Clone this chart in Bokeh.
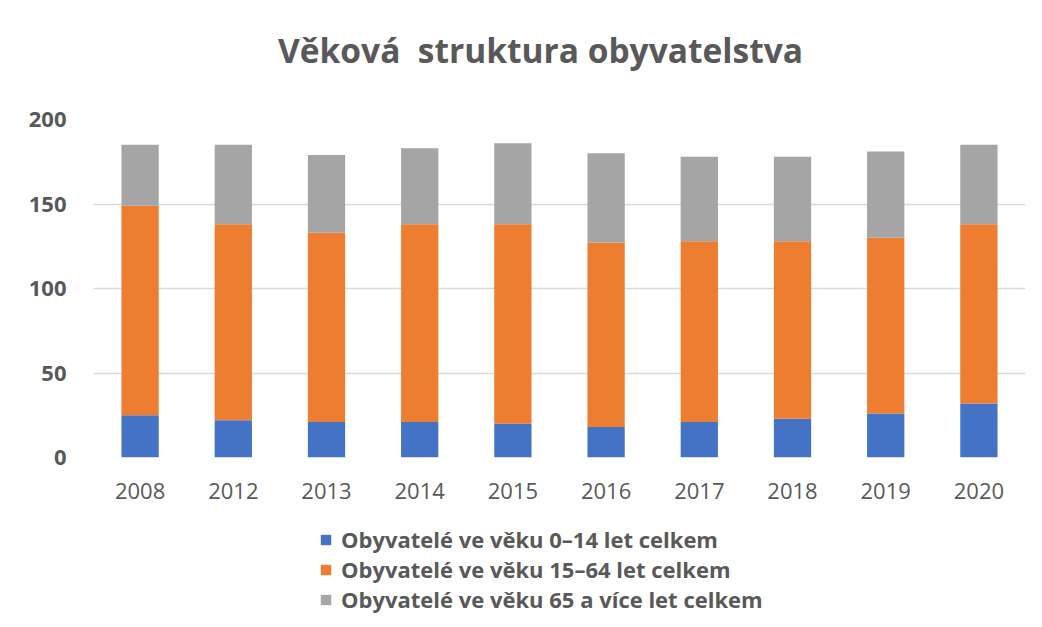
from bokeh.plotting import figure
from bokeh.models import ColumnDataSource, Legend, LegendItem, Range1d, FactorRange, Label
from bokeh.layouts import column
from bokeh.embed import file_html
from bokeh.resources import INLINE

years = ["2008", "2012", "2013", "2014", "2015", "2016", "2017", "2018", "2019", "2020"]
age_0_14 = [25, 22, 21, 21, 20, 18, 21, 23, 26, 32]
age_15_64 = [124, 116, 112, 117, 118, 109, 107, 105, 104, 106]
age_65_plus = [36, 47, 46, 45, 48, 53, 50, 50, 51, 47]
series_names = [
    "Obyvatelé ve věku 0–14 let celkem",
    "Obyvatelé ve věku 15–64 let celkem",
    "Obyvatelé ve věku 65 a více let celkem",
]
title_text = "Věková\u00a0 struktura obyvatelstva"
colors = ["#4472C4", "#ED7D31", "#A5A5A5"]
keys = ["a", "b", "c"]

src = ColumnDataSource(dict(years=years, a=age_0_14, b=age_15_64, c=age_65_plus))

TXT = "#595959"
W = 1042
ML, MR = 93, 17

# ---- title strip ----
TH = 99
t = figure(width=W, height=TH, x_range=Range1d(ML, W - MR), y_range=Range1d(0, TH),
           output_backend="svg", toolbar_location=None, min_border=0,
           min_border_left=ML, min_border_right=MR)
t.axis.visible = False
t.grid.visible = False
t.outline_line_color = None
t.add_layout(Label(x=540, y=TH - 49, text=title_text, text_align="center",
                   text_baseline="alphabetic", text_font="Open Sans",
                   text_font_size="33.5px", text_font_style="bold", text_color=TXT))

# ---- chart ----
p = figure(
    x_range=FactorRange(*years, range_padding=0),
    y_range=Range1d(0, 200),
    width=W, height=627 - TH - 117,
    output_backend="svg", toolbar_location=None,
    min_border_left=ML, min_border_right=MR, min_border_top=119 - TH, min_border_bottom=53,
)
p.x_range.range_padding = 0
p.vbar_stack(keys, x="years", width=0.4, color=colors, source=src, line_color=None)

p.outline_line_color = None
p.xgrid.grid_line_color = None
p.ygrid.grid_line_color = "#D9D9D9"
p.ygrid.grid_line_width = 1.5
p.yaxis.ticker = [0, 50, 100, 150, 200]
p.yaxis.axis_line_color = None
p.yaxis.major_tick_line_color = None
p.yaxis.minor_tick_line_color = None
p.yaxis.major_label_text_font = "Open Sans"
p.yaxis.major_label_text_font_style = "bold"
p.yaxis.major_label_text_font_size = "22px"
p.yaxis.major_label_text_color = TXT
p.yaxis.major_label_standoff = 21

p.xaxis.axis_line_color = None
p.xaxis.major_tick_line_color = None
p.xaxis.major_label_text_font = "Open Sans"
p.xaxis.major_label_text_font_size = "22px"
p.xaxis.major_label_text_color = TXT
p.xaxis.major_label_standoff = 19

# ---- legend strip ----
q = figure(
    x_range=FactorRange(*years), y_range=Range1d(1000, 1001),
    width=W, height=117,
    output_backend="svg", toolbar_location=None,
    min_border=0,
)
q.axis.visible = False
q.grid.visible = False
q.outline_line_color = None
legend_renderers = q.vbar_stack(keys, x="years", width=0.4, color=colors, source=src,
                                line_color=None)

legend = Legend(
    items=[LegendItem(label=n, renderers=[r]) for n, r in zip(series_names, legend_renderers)],
    location=(226, 13),
    orientation="vertical",
    label_text_font="Open Sans",
    label_text_font_style="bold",
    label_text_font_size="22px",
    label_text_color=TXT,
    glyph_width=13, glyph_height=13,
    label_height=24,
    label_standoff=9,
    spacing=0,
    padding=0, margin=0,
    border_line_color=None,
    background_fill_alpha=0,
)
q.add_layout(legend, "center")

layout = column(t, p, q, spacing=0)
open("out.html", "w").write(file_html(layout, INLINE))
